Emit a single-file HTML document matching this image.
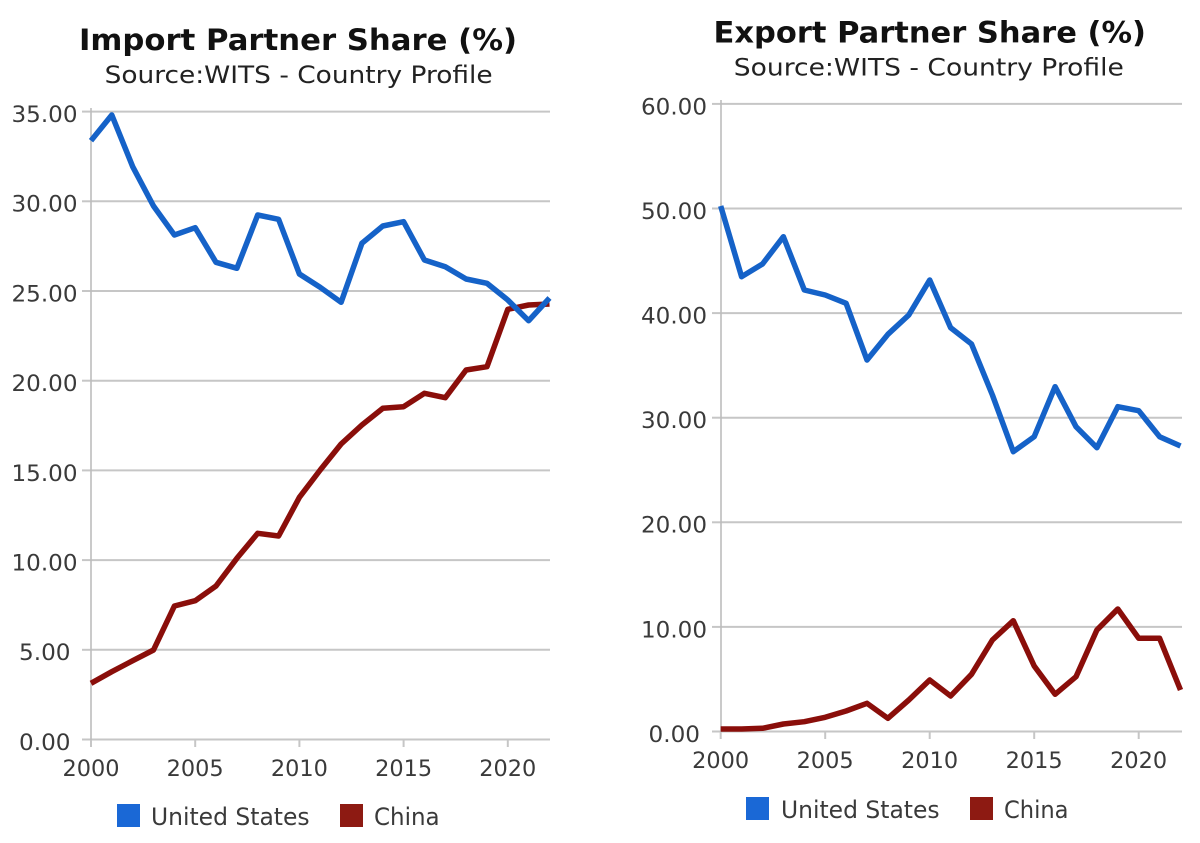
<!DOCTYPE html>
<html>
<head>
<meta charset="utf-8">
<style>
html,body{margin:0;padding:0;background:#fff;}
svg{display:block;}
text{font-family:"DejaVu Sans","Liberation Sans",sans-serif;}
</style>
</head>
<body>
<svg width="1200" height="843" viewBox="0 0 1200 843" xmlns="http://www.w3.org/2000/svg">
<rect width="1200" height="843" fill="#fff"/>

<!-- ================= LEFT CHART ================= -->
<text x="79" y="50" font-size="29" font-weight="bold" fill="#111" textLength="438" lengthAdjust="spacingAndGlyphs">Import Partner Share (%)</text>
<text x="104.6" y="83" font-size="24" fill="#222" textLength="388" lengthAdjust="spacingAndGlyphs">Source:WITS - Country Profile</text>

<g stroke="#c6c6c6" stroke-width="2">
  <line x1="91" y1="111.6" x2="550" y2="111.6"/>
  <line x1="91" y1="201.3" x2="550" y2="201.3"/>
  <line x1="91" y1="291" x2="550" y2="291"/>
  <line x1="91" y1="380.7" x2="550" y2="380.7"/>
  <line x1="91" y1="470.4" x2="550" y2="470.4"/>
  <line x1="91" y1="560.1" x2="550" y2="560.1"/>
  <line x1="91" y1="649.8" x2="550" y2="649.8"/>
  <line x1="91" y1="739.5" x2="550" y2="739.5"/>
  <line x1="82" y1="111.6" x2="91" y2="111.6"/>
  <line x1="82" y1="201.3" x2="91" y2="201.3"/>
  <line x1="82" y1="291" x2="91" y2="291"/>
  <line x1="82" y1="380.7" x2="91" y2="380.7"/>
  <line x1="82" y1="470.4" x2="91" y2="470.4"/>
  <line x1="82" y1="560.1" x2="91" y2="560.1"/>
  <line x1="82" y1="649.8" x2="91" y2="649.8"/>
  <line x1="82" y1="739.5" x2="91" y2="739.5"/>
  <line x1="91" y1="739.5" x2="91" y2="747"/>
  <line x1="195.2" y1="739.5" x2="195.2" y2="747"/>
  <line x1="299.4" y1="739.5" x2="299.4" y2="747"/>
  <line x1="403.6" y1="739.5" x2="403.6" y2="747"/>
  <line x1="507.8" y1="739.5" x2="507.8" y2="747"/>
</g>
<line x1="91" y1="108" x2="91" y2="740" stroke="#bdbdbd" stroke-width="1.6"/>

<g font-size="22" fill="#3a3a3a">
  <text x="11.5" y="122" textLength="66" lengthAdjust="spacingAndGlyphs">35.00</text>
  <text x="11.5" y="211.7" textLength="66" lengthAdjust="spacingAndGlyphs">30.00</text>
  <text x="11.5" y="301.4" textLength="66" lengthAdjust="spacingAndGlyphs">25.00</text>
  <text x="11.5" y="391.1" textLength="66" lengthAdjust="spacingAndGlyphs">20.00</text>
  <text x="11.5" y="480.8" textLength="66" lengthAdjust="spacingAndGlyphs">15.00</text>
  <text x="11.5" y="570.5" textLength="66" lengthAdjust="spacingAndGlyphs">10.00</text>
  <text x="19" y="660.2" textLength="51.5" lengthAdjust="spacingAndGlyphs">5.00</text>
  <text x="19" y="749.9" textLength="51.5" lengthAdjust="spacingAndGlyphs">0.00</text>

  <text x="62.5" y="776" textLength="57" lengthAdjust="spacingAndGlyphs">2000</text>
  <text x="166.7" y="776" textLength="57" lengthAdjust="spacingAndGlyphs">2005</text>
  <text x="270.9" y="776" textLength="57" lengthAdjust="spacingAndGlyphs">2010</text>
  <text x="375.1" y="776" textLength="57" lengthAdjust="spacingAndGlyphs">2015</text>
  <text x="479.3" y="776" textLength="57" lengthAdjust="spacingAndGlyphs">2020</text>
</g>

<polyline fill="none" stroke="#8a0e0a" stroke-width="5.5" stroke-linejoin="round" stroke-linecap="butt"
 points="91,683.3 111.8,671.7 132.7,660.7 153.5,650 174.4,606 195.2,600.7 216,586 236.9,558.3 257.7,533.3 278.6,536 299.4,497.3 320.2,470 341.1,444 361.9,425 382.8,408.3 403.6,406.7 424.4,393.3 445.3,397.7 466.1,370 487,366.7 507.8,309.3 528.6,305 549.5,304"/>
<polyline fill="none" stroke="#1562c8" stroke-width="5.5" stroke-linejoin="round" stroke-linecap="butt"
 points="91,140.7 111.8,115 132.7,166.7 153.5,206 174.4,235 195.2,227.7 216,262.3 236.9,268.3 257.7,215 278.6,219.3 299.4,274 320.2,287.3 341.1,302.3 361.9,243.3 382.8,226 403.6,221.7 424.4,260 445.3,266.7 466.1,279 487,283.3 507.8,300 528.6,320.7 549.5,298"/>

<rect x="117" y="804" width="23" height="23" fill="#1a68d6"/>
<text x="151" y="825" font-size="24" fill="#3a3a3a" textLength="158.6" lengthAdjust="spacingAndGlyphs">United States</text>
<rect x="340" y="804" width="23" height="23" fill="#8d1a12"/>
<text x="374" y="825" font-size="24" fill="#3a3a3a" textLength="65.6" lengthAdjust="spacingAndGlyphs">China</text>

<!-- ================= RIGHT CHART ================= -->
<text x="713.5" y="42.5" font-size="29" font-weight="bold" fill="#111" textLength="432.5" lengthAdjust="spacingAndGlyphs">Export Partner Share (%)</text>
<text x="733.8" y="75.5" font-size="24" fill="#222" textLength="390" lengthAdjust="spacingAndGlyphs">Source:WITS - Country Profile</text>

<g stroke="#c6c6c6" stroke-width="2">
  <line x1="721" y1="103.9" x2="1182" y2="103.9"/>
  <line x1="721" y1="208.5" x2="1182" y2="208.5"/>
  <line x1="721" y1="313.1" x2="1182" y2="313.1"/>
  <line x1="721" y1="417.7" x2="1182" y2="417.7"/>
  <line x1="721" y1="522.3" x2="1182" y2="522.3"/>
  <line x1="721" y1="626.9" x2="1182" y2="626.9"/>
  <line x1="721" y1="731.5" x2="1182" y2="731.5"/>
  <line x1="712" y1="103.9" x2="721" y2="103.9"/>
  <line x1="712" y1="208.5" x2="721" y2="208.5"/>
  <line x1="712" y1="313.1" x2="721" y2="313.1"/>
  <line x1="712" y1="417.7" x2="721" y2="417.7"/>
  <line x1="712" y1="522.3" x2="721" y2="522.3"/>
  <line x1="712" y1="626.9" x2="721" y2="626.9"/>
  <line x1="712" y1="731.5" x2="721" y2="731.5"/>
  <line x1="720.7" y1="731.5" x2="720.7" y2="739"/>
  <line x1="825.2" y1="731.5" x2="825.2" y2="739"/>
  <line x1="929.7" y1="731.5" x2="929.7" y2="739"/>
  <line x1="1034.2" y1="731.5" x2="1034.2" y2="739"/>
  <line x1="1138.7" y1="731.5" x2="1138.7" y2="739"/>
</g>
<line x1="721" y1="100" x2="721" y2="732" stroke="#bdbdbd" stroke-width="1.6"/>

<g font-size="22" fill="#3a3a3a">
  <text x="641" y="114.3" textLength="66" lengthAdjust="spacingAndGlyphs">60.00</text>
  <text x="641" y="218.9" textLength="66" lengthAdjust="spacingAndGlyphs">50.00</text>
  <text x="641" y="323.5" textLength="66" lengthAdjust="spacingAndGlyphs">40.00</text>
  <text x="641" y="428.1" textLength="66" lengthAdjust="spacingAndGlyphs">30.00</text>
  <text x="641" y="532.7" textLength="66" lengthAdjust="spacingAndGlyphs">20.00</text>
  <text x="641" y="637.3" textLength="66" lengthAdjust="spacingAndGlyphs">10.00</text>
  <text x="648.5" y="741.9" textLength="51.5" lengthAdjust="spacingAndGlyphs">0.00</text>

  <text x="692.2" y="768" textLength="57" lengthAdjust="spacingAndGlyphs">2000</text>
  <text x="796.7" y="768" textLength="57" lengthAdjust="spacingAndGlyphs">2005</text>
  <text x="901.2" y="768" textLength="57" lengthAdjust="spacingAndGlyphs">2010</text>
  <text x="1005.7" y="768" textLength="57" lengthAdjust="spacingAndGlyphs">2015</text>
  <text x="1110.2" y="768" textLength="57" lengthAdjust="spacingAndGlyphs">2020</text>
</g>

<polyline fill="none" stroke="#8a0e0a" stroke-width="5.5" stroke-linejoin="round" stroke-linecap="butt"
 points="720.7,729 741.6,729 762.5,728.3 783.4,724 804.3,721.7 825.2,717.3 846.1,711 867,703.3 887.9,718.3 908.8,700 929.7,680 950.6,696 971.5,674.3 992.4,640 1013.3,620.7 1034.2,666 1055.1,694.3 1076,676.7 1096.9,630 1117.8,609 1138.7,638.3 1159.6,638.3 1180.5,690"/>
<polyline fill="none" stroke="#1562c8" stroke-width="5.5" stroke-linejoin="round" stroke-linecap="butt"
 points="720.7,206 741.6,276.7 762.5,264 783.4,236.7 804.3,290 825.2,295 846.1,303.3 867,360 887.9,334.3 908.8,315 929.7,280 950.6,327.7 971.5,344 992.4,395 1013.3,451.7 1034.2,436.7 1055.1,386.7 1076,426.7 1096.9,447.7 1117.8,406.7 1138.7,410.7 1159.6,436.7 1180.5,446"/>

<rect x="746" y="797" width="23" height="23" fill="#1a68d6"/>
<text x="781" y="818" font-size="24" fill="#3a3a3a" textLength="158.6" lengthAdjust="spacingAndGlyphs">United States</text>
<rect x="970" y="797" width="23" height="23" fill="#8d1a12"/>
<text x="1004" y="818" font-size="24" fill="#3a3a3a" textLength="64.5" lengthAdjust="spacingAndGlyphs">China</text>
</svg>
</body>
</html>
